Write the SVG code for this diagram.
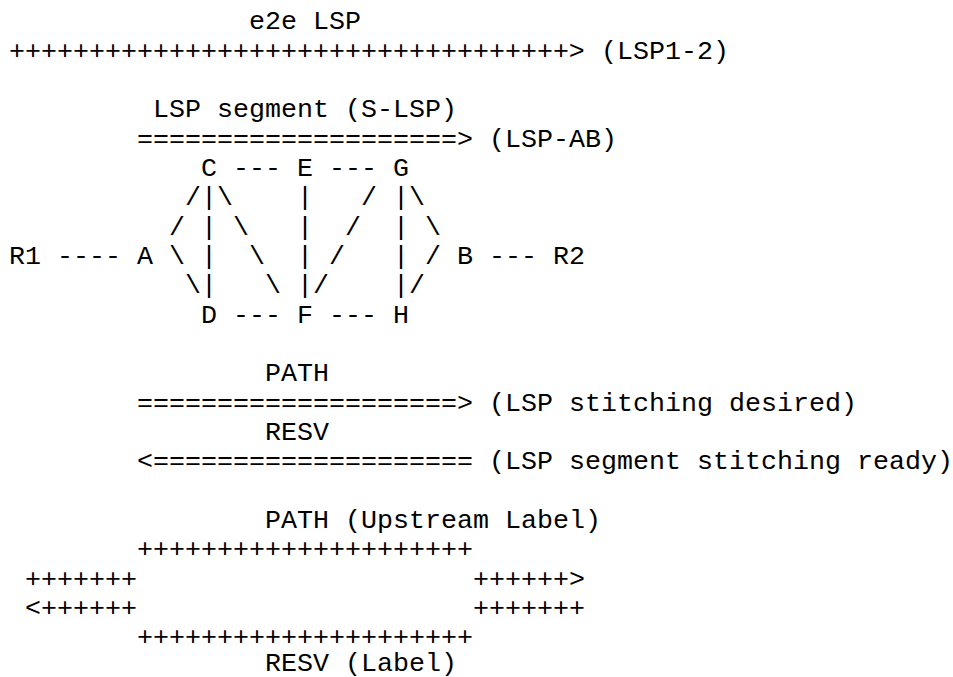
<svg xmlns="http://www.w3.org/2000/svg" width="953" height="677" viewBox="0 0 953 677">
<style>
text { font-family: "Liberation Mono", "Courier New", monospace; font-size: 26.67px; fill: #000000; }
</style>
<rect x="0" y="0" width="953" height="677" fill="#ffffff"/>
<g id="labels">
<text x="249" y="29.33">e2e LSP</text>
<text x="601" y="58.67">(LSP1-2)</text>
<text x="153" y="117.33">LSP segment (S-LSP)</text>
<text x="489" y="146.67">(LSP-AB)</text>
<text x="265" y="381.33">PATH</text>
<text x="489" y="410.67">(LSP stitching desired)</text>
<text x="265" y="440">RESV</text>
<text x="489" y="469.33">(LSP segment stitching ready)</text>
<text x="265" y="528">PATH (Upstream Label)</text>
<text x="265" y="671">RESV (Label)</text>
</g>
<g id="node-R1"><text x="9" y="264">R1</text></g>
<g id="node-A"><text x="137" y="264">A</text></g>
<g id="node-B"><text x="457" y="264">B</text></g>
<g id="node-R2"><text x="553" y="264">R2</text></g>
<g id="node-C"><text x="201" y="176">C</text></g>
<g id="node-E"><text x="297" y="176">E</text></g>
<g id="node-G"><text x="393" y="176">G</text></g>
<g id="node-D"><text x="201" y="322.67">D</text></g>
<g id="node-F"><text x="297" y="322.67">F</text></g>
<g id="node-H"><text x="393" y="322.67">H</text></g>
<g id="connectors">
<text x="9" y="58.67">+++++++++++++++++++++++++++++++++++&gt;</text>
<text x="137" y="146.67">====================&gt;</text>
<text x="233" y="176">---</text>
<text x="329" y="176">---</text>
<text x="185" y="205.33">/|\</text>
<text x="297" y="205.33">|</text>
<text x="361" y="205.33">/</text>
<text x="393" y="205.33">|\</text>
<text x="169" y="234.67">/</text>
<text x="201" y="234.67">|</text>
<text x="233" y="234.67">\</text>
<text x="297" y="234.67">|</text>
<text x="345" y="234.67">/</text>
<text x="393" y="234.67">|</text>
<text x="425" y="234.67">\</text>
<text x="57" y="264">----</text>
<text x="169" y="264">\</text>
<text x="201" y="264">|</text>
<text x="249" y="264">\</text>
<text x="297" y="264">|</text>
<text x="329" y="264">/</text>
<text x="393" y="264">|</text>
<text x="425" y="264">/</text>
<text x="489" y="264">---</text>
<text x="185" y="293.33">\|</text>
<text x="265" y="293.33">\</text>
<text x="297" y="293.33">|/</text>
<text x="393" y="293.33">|/</text>
<text x="233" y="322.67">---</text>
<text x="329" y="322.67">---</text>
<text x="137" y="410.67">====================&gt;</text>
<text x="137" y="469.33">&lt;====================</text>
<text x="137" y="557.33">+++++++++++++++++++++</text>
<text x="25" y="586.67">+++++++</text>
<text x="473" y="586.67">++++++&gt;</text>
<text x="25" y="616">&lt;++++++</text>
<text x="473" y="616">+++++++</text>
<text x="137" y="645.33">+++++++++++++++++++++</text>
</g>
</svg>
